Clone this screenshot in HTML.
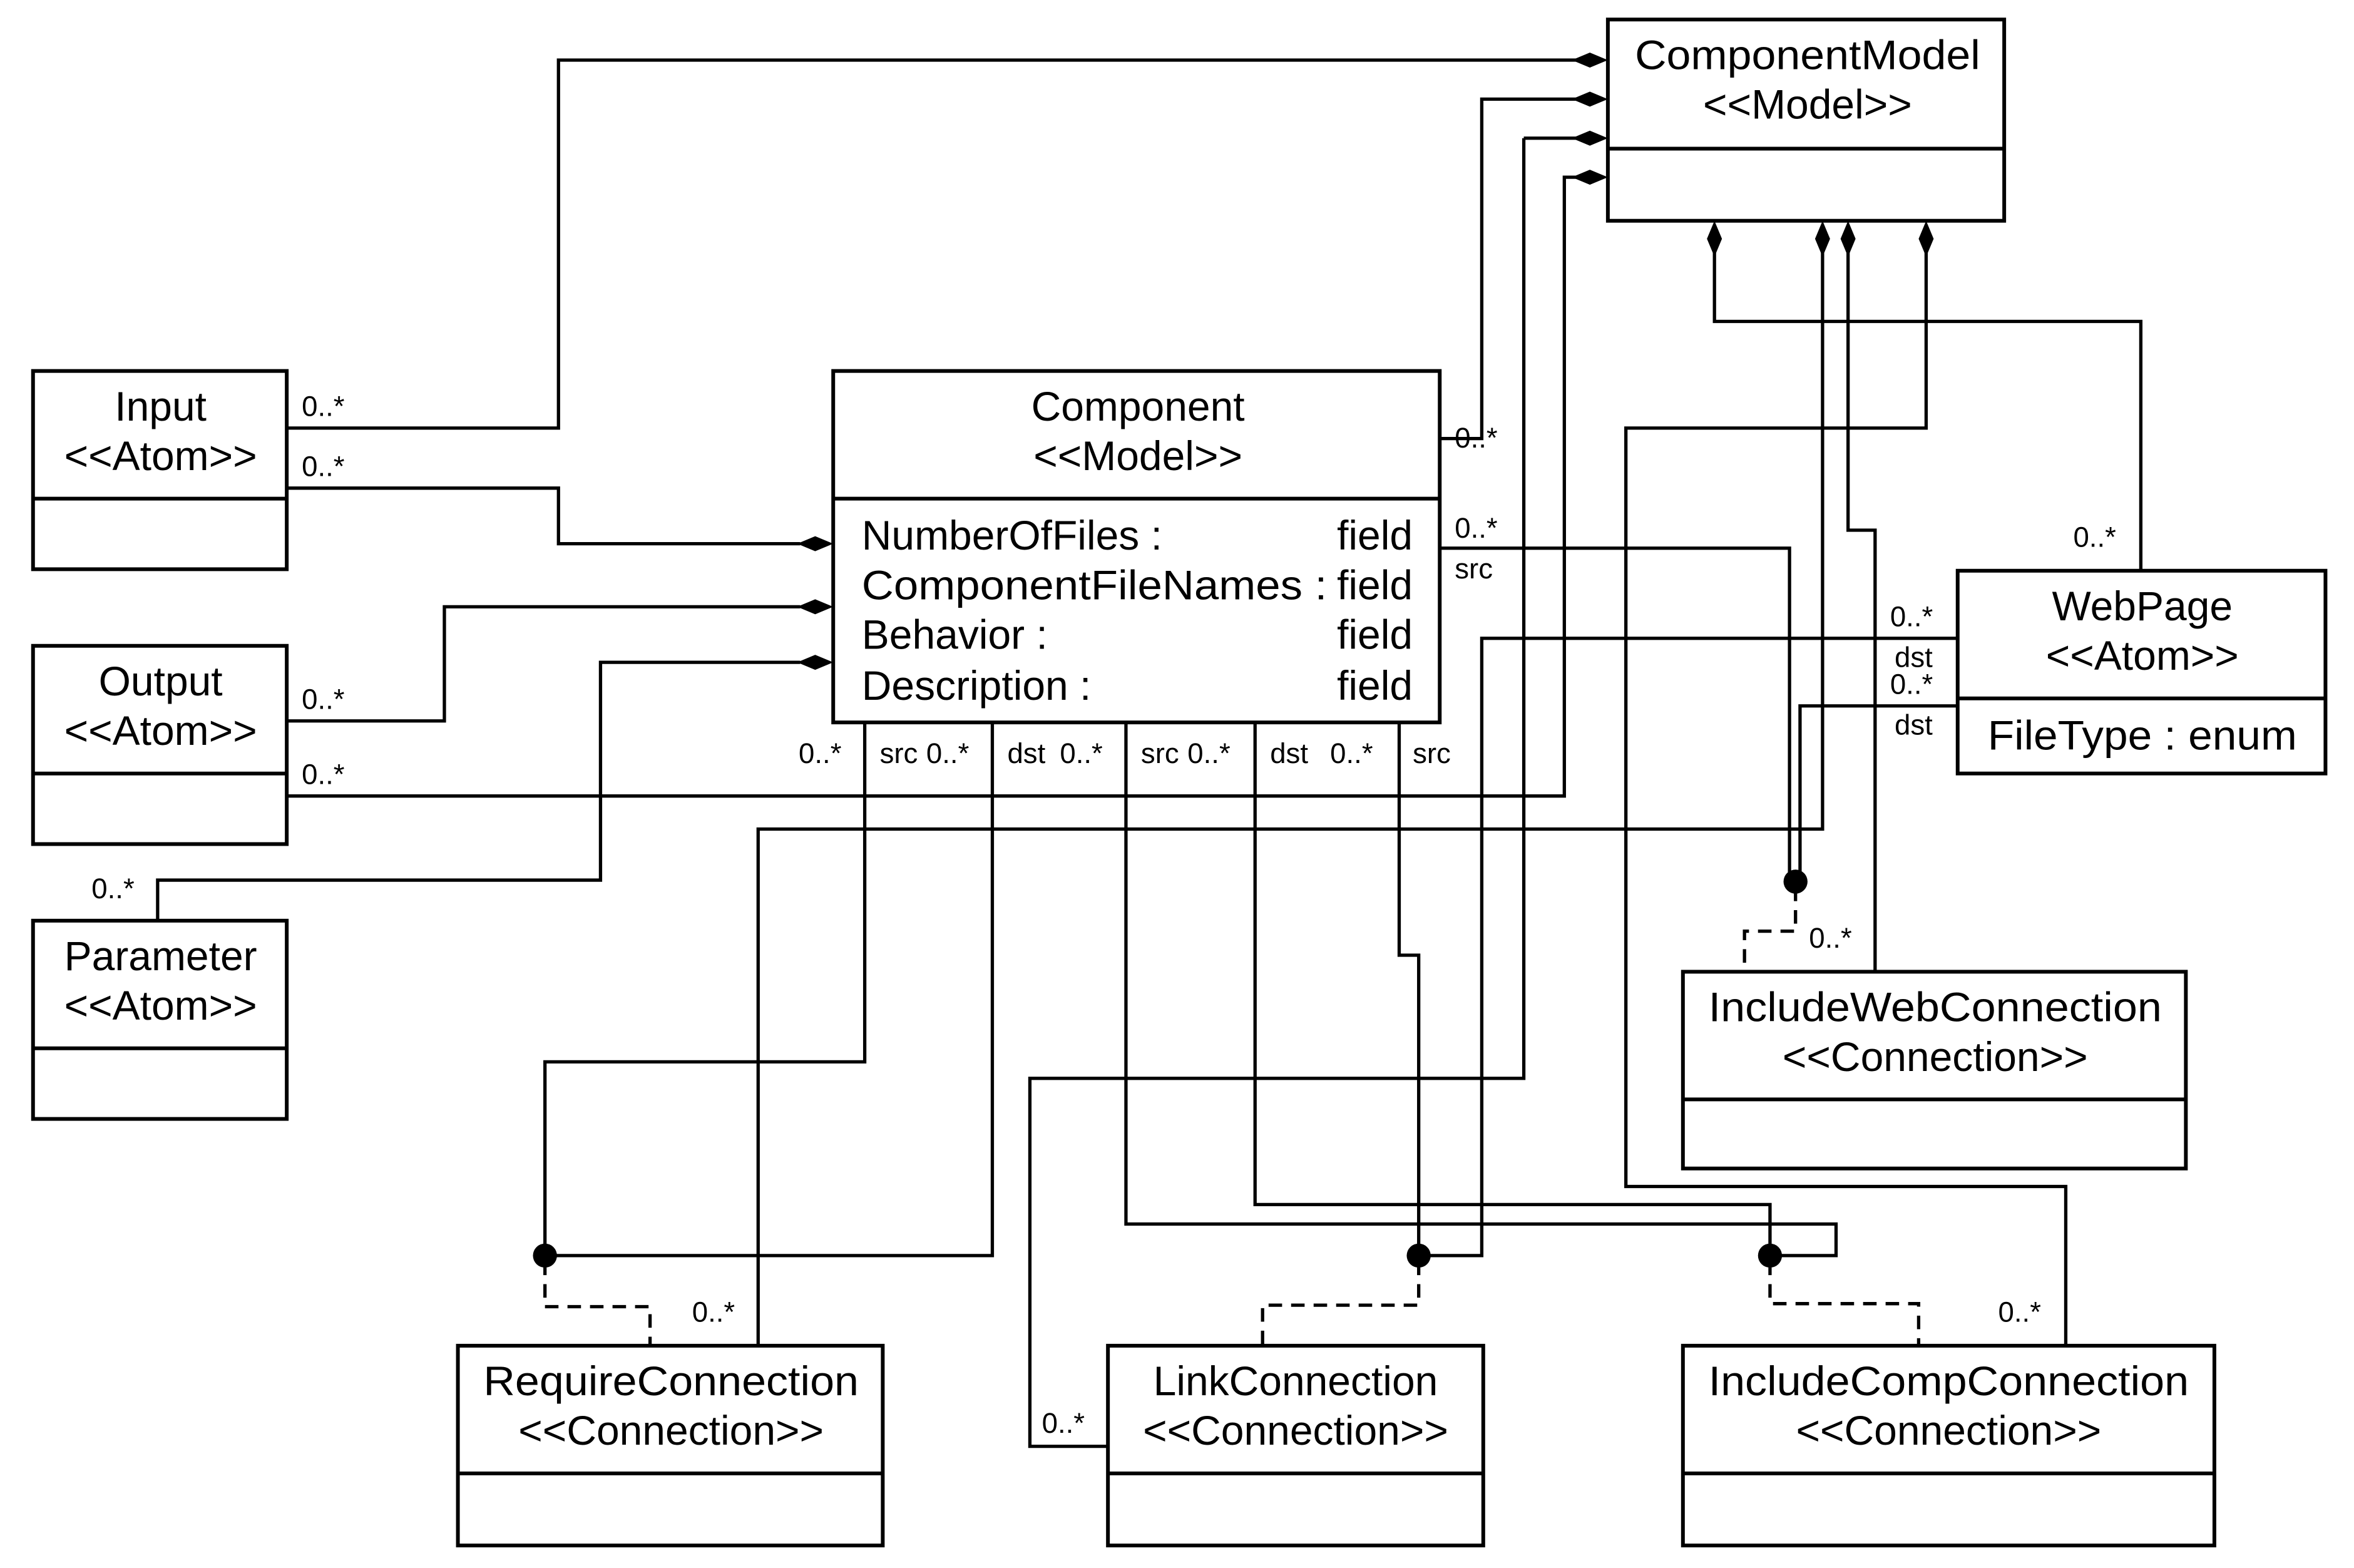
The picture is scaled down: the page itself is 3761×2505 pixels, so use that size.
<!DOCTYPE html>
<html><head><style>html,body{margin:0;padding:0;background:#fff}svg{display:block}</style></head>
<body>
<svg width="3761" height="2505" viewBox="0 0 1568 1044" preserveAspectRatio="none" xmlns="http://www.w3.org/2000/svg" font-family="Liberation Sans, Arial, sans-serif">
<rect width="1568" height="1044" fill="#fff"/>
<g fill="none" stroke="#000" stroke-width="2.2">
<polyline points="191,285 372,285 372,40 1050,40"/>
<polyline points="191,325 372,325 372,362 533,362"/>
<polyline points="191,480 296,480 296,404 533,404"/>
<polyline points="105,613 105,586 400,586 400,441 533,441"/>
<polyline points="191,530 1042,530 1042,118 1050,118"/>
<polyline points="959,292 987,292 987,66 1050,66"/>
<polyline points="1015,92 1015,718 686,718 686,963 738,963"/>
<polyline points="1050,92 1015,92"/>
<polyline points="576,481 576,707 363,707 363,836"/>
<polyline points="661,481 661,836 363,836"/>
<polyline points="505,896 505,552 1214,552 1214,168"/>
<polyline points="750,481 750,815 1223,815 1223,836 1179,836"/>
<polyline points="836,481 836,802 1179,802 1179,836"/>
<polyline points="1376,896 1376,790 1083,790 1083,285 1283,285 1283,168"/>
<polyline points="932,481 932,636 945,636 945,836"/>
<polyline points="1304,425 987,425 987,836 945,836"/>
<polyline points="959,365 1192,365 1192,587"/>
<polyline points="1304,470 1199,470 1199,587"/>
<polyline points="1249,647 1249,353 1231,353 1231,168"/>
<polyline points="1426,380 1426,214 1142,214 1142,168"/>
<g stroke-dasharray="9,6">
<polyline points="363,840 363,870 433,870 433,896"/>
<polyline points="1179,840 1179,868 1278,868 1278,896"/>
<polyline points="945,840 945,869 841,869 841,896"/>
<polyline points="1196,591 1196,620 1162,620 1162,647"/>
</g>
</g>
<g fill="#000">
<polygon points="1071,40 1059,35 1047,40 1059,45"/>
<polygon points="1071,66 1059,61 1047,66 1059,71"/>
<polygon points="1071,92 1059,87 1047,92 1059,97"/>
<polygon points="1071,118 1059,113 1047,118 1059,123"/>
<polygon points="555,362 543,357 531,362 543,367"/>
<polygon points="555,404 543,399 531,404 543,409"/>
<polygon points="555,441 543,436 531,441 543,446"/>
<polygon points="1142,147 1137,159 1142,171 1147,159"/>
<polygon points="1214,147 1209,159 1214,171 1219,159"/>
<polygon points="1231,147 1226,159 1231,171 1236,159"/>
<polygon points="1283,147 1278,159 1283,171 1288,159"/>
<circle cx="363" cy="836" r="8"/>
<circle cx="945" cy="836" r="8"/>
<circle cx="1179" cy="836" r="8"/>
<circle cx="1196" cy="587" r="8"/>
</g>
<g fill="#fff" stroke="#000" stroke-width="2.5">
<rect x="1071" y="13" width="264" height="134"/><line x1="1071" y1="99" x2="1335" y2="99"/>
<rect x="22" y="247" width="169" height="132"/><line x1="22" y1="332" x2="191" y2="332"/>
<rect x="22" y="430" width="169" height="132"/><line x1="22" y1="515" x2="191" y2="515"/>
<rect x="22" y="613" width="169" height="132"/><line x1="22" y1="698" x2="191" y2="698"/>
<rect x="555" y="247" width="404" height="234"/><line x1="555" y1="332" x2="959" y2="332"/>
<rect x="1304" y="380" width="245" height="135"/><line x1="1304" y1="465" x2="1549" y2="465"/>
<rect x="1121" y="647" width="335" height="131"/><line x1="1121" y1="732" x2="1456" y2="732"/>
<rect x="305" y="896" width="283" height="133"/><line x1="305" y1="981" x2="588" y2="981"/>
<rect x="738" y="896" width="250" height="133"/><line x1="738" y1="981" x2="988" y2="981"/>
<rect x="1121" y="896" width="354" height="133"/><line x1="1121" y1="981" x2="1475" y2="981"/>
</g>
<g font-size="27.5" text-anchor="middle" fill="#000">
<text x="1204" y="46" textLength="230" lengthAdjust="spacingAndGlyphs">ComponentModel</text><text x="1204" y="79">&lt;&lt;Model&gt;&gt;</text>
<text x="107" y="280">Input</text><text x="107" y="313">&lt;&lt;Atom&gt;&gt;</text>
<text x="107" y="463">Output</text><text x="107" y="496">&lt;&lt;Atom&gt;&gt;</text>
<text x="107" y="646">Parameter</text><text x="107" y="679">&lt;&lt;Atom&gt;&gt;</text>
<text x="758" y="280">Component</text><text x="758" y="313">&lt;&lt;Model&gt;&gt;</text>
<text x="1427" y="413">WebPage</text><text x="1427" y="446">&lt;&lt;Atom&gt;&gt;</text>
<text x="1427" y="499" textLength="206" lengthAdjust="spacingAndGlyphs">FileType : enum</text>
<text x="1289" y="680" textLength="302" lengthAdjust="spacingAndGlyphs">IncludeWebConnection</text><text x="1289" y="713">&lt;&lt;Connection&gt;&gt;</text>
<text x="447" y="929" textLength="250" lengthAdjust="spacingAndGlyphs">RequireConnection</text><text x="447" y="962">&lt;&lt;Connection&gt;&gt;</text>
<text x="863" y="929">LinkConnection</text><text x="863" y="962">&lt;&lt;Connection&gt;&gt;</text>
<text x="1298" y="929" textLength="320" lengthAdjust="spacingAndGlyphs">IncludeCompConnection</text><text x="1298" y="962">&lt;&lt;Connection&gt;&gt;</text>
</g>
<g font-size="27.5" fill="#000">
<text x="574" y="366">NumberOfFiles :</text>
<text x="574" y="399" textLength="310" lengthAdjust="spacingAndGlyphs">ComponentFileNames :</text>
<text x="574" y="432">Behavior :</text>
<text x="574" y="466">Description :</text>
<g text-anchor="end"><text x="941" y="366">field</text><text x="941" y="399">field</text><text x="941" y="432">field</text><text x="941" y="466">field</text></g>
</g>
<g font-size="19" fill="#000">
<text x="201" y="277">0..*</text><text x="201" y="317">0..*</text>
<text x="201" y="472">0..*</text><text x="201" y="522">0..*</text>
<text x="61" y="598">0..*</text>
<text x="969" y="298">0..*</text>
<text x="969" y="358">0..*</text><text x="969" y="385">src</text>
<text x="532" y="508">0..*</text><text x="586" y="508">src</text><text x="617" y="508">0..*</text>
<text x="671" y="508">dst</text><text x="706" y="508">0..*</text>
<text x="760" y="508">src</text><text x="791" y="508">0..*</text>
<text x="846" y="508">dst</text><text x="886" y="508">0..*</text>
<text x="941" y="508">src</text>
<text x="1259" y="417">0..*</text><text x="1262" y="444">dst</text>
<text x="1259" y="462">0..*</text><text x="1262" y="489">dst</text>
<text x="1381" y="364">0..*</text>
<text x="1205" y="631">0..*</text>
<text x="461" y="880">0..*</text>
<text x="1331" y="880">0..*</text>
<text x="694" y="954">0..*</text>
</g>
</svg>
</body></html>
